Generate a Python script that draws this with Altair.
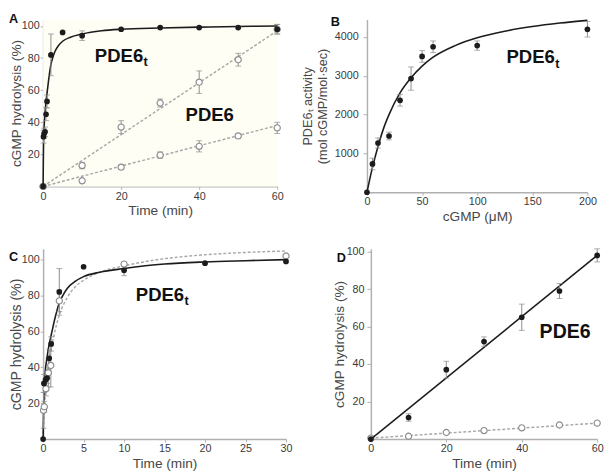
import altair as alt
import pandas as pd

FONT = "Liberation Sans"
DARK = "#1c1c1c"
GREY = "#8c8c8c"
DASH = "#a8a8a8"

# ---------------- Panel A ----------------
a_f_t = [0, 0.1, 0.25, 0.5, 0.75, 1, 2, 5, 10, 20, 30, 40, 50, 60]
a_f_y = [0, 31, 33, 34, 45, 53, 82, 96, 94, 98, 99, 99, 99, 98]
a_f_e = [0, 4, 3, 3, 4, 4, 13, 0, 3, 0.5, 0.5, 0.5, 0.5, 3]
a_o1_t = [0, 10, 20, 30, 40, 50, 60]
a_o1_y = [0, 13, 37, 52, 65, 79, 98]
a_o1_e = [0, 2, 4, 2.5, 7, 4, 3]
a_o2_t = [0, 10, 20, 30, 40, 50, 60]
a_o2_y = [0, 3.5, 12, 19.5, 25, 31.5, 36.5]
a_o2_e = [0, 0, 1.5, 2, 3.5, 1.5, 3.5]
a_fit_t = [0, 0.05, 0.1, 0.25, 0.5, 0.75, 1, 1.5, 2, 2.5, 3, 4, 5, 7, 10, 15, 20, 30, 40, 50, 60]
a_fit_y = [0, 15, 25, 37, 46, 53, 58, 68, 76, 80.5, 84, 88, 90.5, 93, 95, 97, 98, 98.8, 99.3, 99.7, 100]
a_lin1_t = [0, 60]
a_lin1_y = [0, 97]
a_lin2_t = [0, 60]
a_lin2_y = [0, 38]

# ---------------- Panel B ----------------
b_x = [0, 5, 10, 20, 30, 40, 50, 60, 100, 200]
b_y = [0, 730, 1270, 1450, 2370, 2930, 3500, 3750, 3780, 4200]
b_e = [0, 150, 130, 100, 150, 300, 150, 150, 120, 200]
b_fit_x = [0, 2.5, 5, 10, 15, 20, 30, 40, 50, 60, 80, 100, 125, 150, 175, 200]
b_fit_y = [0, 330, 640, 1180, 1640, 2000, 2560, 2950, 3250, 3480, 3780, 3980, 4150, 4270, 4360, 4430]

# ---------------- Panel C ----------------
c_f_t = [0, 0.1, 0.3, 0.5, 0.75, 1, 2, 5, 10, 20, 30]
c_f_y = [0, 31, 33, 34, 45, 53, 82, 96, 94, 98, 99]
c_f_e = [0, 5, 3, 3, 5, 4, 13, 0, 3, 0.5, 0.5]
c_o_t = [0.05, 0.15, 0.35, 0.65, 0.95, 2, 10, 30]
c_o_y = [16, 18, 28, 37, 41, 77, 97.5, 102]
c_o_e = [10, 3, 4, 8, 12, 6, 1, 0.5]
c_fit_t = [0, 0.05, 0.1, 0.25, 0.5, 0.75, 1, 1.5, 2, 2.5, 3, 4, 5, 7, 10, 15, 20, 25, 30]
c_fit_y = [0, 15, 25, 37, 46, 53, 58, 68, 76, 80.5, 84, 88, 90.5, 93, 95, 97.5, 98.7, 99.4, 100]
c_dfit_t = [0, 0.1, 0.3, 0.5, 0.75, 1, 1.5, 2, 3, 4, 5, 7, 10, 15, 20, 25, 30]
c_dfit_y = [0, 12, 27, 36, 44, 50, 61, 69, 79, 85, 88.5, 93, 96.5, 100.5, 102.7, 104, 104.8]

# ---------------- Panel D ----------------
d_t = [0, 10, 20, 30, 40, 50, 60]
d_f_y = [0, 11.5, 37, 52, 65, 79, 98]
d_f_e = [0, 2, 4.5, 2.5, 7, 4, 3.5]
d_o_y = [0.5, 1.5, 3.5, 4.5, 6, 7.5, 8.5]
d_lin1_t = [0, 60]
d_lin1_y = [0, 98]
d_lin2_t = [0, 60]
d_lin2_y = [0.5, 8.5]


def frame(x, y, e=None):
    df = pd.DataFrame({"x": x, "y": y})
    if e is not None:
        df["lo"] = [a - b for a, b in zip(y, e)]
        df["hi"] = [a + b for a, b in zip(y, e)]
    return df


def scales(xdom, ydom):
    return alt.Scale(domain=xdom, nice=False, zero=False), alt.Scale(domain=ydom, nice=False, zero=False)


def errbars(df, xs, ys):
    d = df[df["hi"] > df["lo"]]
    base = alt.Chart(d)
    rule = base.mark_rule(color=GREY, strokeWidth=1).encode(
        x=alt.X("x:Q", scale=xs), y=alt.Y("lo:Q", scale=ys), y2="hi:Q")
    t1 = base.mark_tick(color=GREY, orient="horizontal", size=6, thickness=1).encode(
        x=alt.X("x:Q", scale=xs), y=alt.Y("lo:Q", scale=ys))
    t2 = base.mark_tick(color=GREY, orient="horizontal", size=6, thickness=1).encode(
        x=alt.X("x:Q", scale=xs), y=alt.Y("hi:Q", scale=ys))
    return [rule, t1, t2]


def line(df, xs, ys, dashed=False, color=DARK, width=1.6):
    kw = dict(color=color, strokeWidth=width, interpolate="monotone")
    if dashed:
        kw["strokeDash"] = [3, 2]
    return alt.Chart(df).mark_line(**kw).encode(x=alt.X("x:Q", scale=xs), y=alt.Y("y:Q", scale=ys))


def filled(df, xs, ys):
    return alt.Chart(df).mark_circle(color=DARK, size=34, opacity=1).encode(
        x=alt.X("x:Q", scale=xs), y=alt.Y("y:Q", scale=ys))


def hollow(df, xs, ys):
    return alt.Chart(df).mark_point(shape="circle", filled=True, fill="white", stroke=GREY,
                                    strokeWidth=1.2, size=40, opacity=1).encode(
        x=alt.X("x:Q", scale=xs), y=alt.Y("y:Q", scale=ys))


def label(text, x, y, size=19, sub=None):
    df = pd.DataFrame({"t": [text]})
    out = [alt.Chart(df).mark_text(font=FONT, fontWeight="bold", fontSize=size, color="#111",
                                   align="left", baseline="middle").encode(
        text="t:N", x=alt.value(x), y=alt.value(y))]
    if sub:
        ds = pd.DataFrame({"t": [sub]})
        out.append(alt.Chart(ds).mark_text(font=FONT, fontWeight="bold", fontSize=13, color="#111",
                                           align="left", baseline="middle").encode(
            text="t:N", x=alt.value(x + size * 2.63), y=alt.value(y + 7)))
    return out


def letter(ch, x, y):
    df = pd.DataFrame({"t": [ch]})
    return alt.Chart(df).mark_text(font=FONT, fontWeight="bold", fontSize=13, color="#111",
                                   align="left", baseline="top").encode(
        text="t:N", x=alt.value(x), y=alt.value(y))


def axes(xs, ys, xvals, yvals, xtitle, ytitle, ytitle_size=14, lab_pad=1, tick=3, title_pad=-2, fmt=None):
    xa = alt.Axis(values=xvals, title=xtitle, titleFontSize=14, titlePadding=3, titleFontWeight="normal",
                  tickSize=3, labelPadding=1)
    ykw = dict(values=yvals, title=ytitle, titleFontSize=ytitle_size, titlePadding=title_pad,
               titleFontWeight="normal", labelPadding=lab_pad, tickSize=tick)
    if fmt:
        ykw["format"] = fmt
    ya = alt.Axis(**ykw)
    return alt.Chart(pd.DataFrame({"x": [xs.domain[0]], "y": [ys.domain[0]]})).mark_point(opacity=0).encode(
        x=alt.X("x:Q", scale=xs, axis=xa), y=alt.Y("y:Q", scale=ys, axis=ya))


# ---------- build A ----------
AW, AH = 240, 171
xs, ys = scales([0, 60], [0, 104])
bg = alt.Chart(pd.DataFrame({"x": [0]})).mark_rect(color="#fefef5").encode(
    x=alt.value(0), x2=alt.value(AW), y=alt.value(0), y2=alt.value(AH))
A = alt.layer(
    bg,
    axes(xs, ys, [0, 10, 20, 30, 40, 50, 60], [20, 40, 60, 80, 100], "Time (min)", "cGMP hydrolysis (%)"),
    line(frame(a_lin1_t, a_lin1_y), xs, ys, dashed=True, color=DASH, width=1.5),
    line(frame(a_lin2_t, a_lin2_y), xs, ys, dashed=True, color=DASH, width=1.5),
    *errbars(frame(a_o1_t, a_o1_y, a_o1_e), xs, ys),
    *errbars(frame(a_o2_t, a_o2_y, a_o2_e), xs, ys),
    hollow(frame(a_o1_t, a_o1_y), xs, ys),
    hollow(frame(a_o2_t, a_o2_y), xs, ys),
    line(frame(a_fit_t, a_fit_y), xs, ys),
    *errbars(frame(a_f_t, a_f_y, a_f_e), xs, ys),
    filled(frame(a_f_t, a_f_y), xs, ys),
    *label("PDE6", 53, 37, sub="t"),
    *label("PDE6", 146, 98),
    letter("A", -35, -6),
).properties(width=AW, height=AH)

# ---------- build B ----------
BW, BH = 226, 177
xs, ys = scales([0, 200], [0, 4450])
B = alt.layer(
    axes(xs, ys, [0, 50, 100, 150, 200], [1000, 2000, 3000, 4000], "cGMP (\u03bcM)",
         ["PDE6\u209c activity", "(mol cGMP/mol\u00b7sec)"], ytitle_size=13, lab_pad=5, tick=4,
         title_pad=5, fmt="d"),
    line(frame(b_fit_x, b_fit_y), xs, ys),
    *errbars(frame(b_x, b_y, b_e), xs, ys),
    filled(frame(b_x, b_y), xs, ys),
    *label("PDE6", 143, 39, sub="t"),
    letter("B", -37, -3),
).properties(width=BW, height=BH)

# ---------- build C ----------
CW, CH = 249, 195
xs, ys = scales([0, 30], [0, 106])
C = alt.layer(
    axes(xs, ys, [0, 5, 10, 15, 20, 25, 30], [20, 40, 60, 80, 100], "Time (min)", "cGMP hydrolysis (%)", 14.5),
    line(frame(c_dfit_t, c_dfit_y), xs, ys, dashed=True, color=DASH, width=1.5),
    line(frame(c_fit_t, c_fit_y), xs, ys),
    *errbars(frame(c_o_t, c_o_y, c_o_e), xs, ys),
    *errbars(frame(c_f_t, c_f_y, c_f_e), xs, ys),
    hollow(frame(c_o_t, c_o_y), xs, ys),
    filled(frame(c_f_t, c_f_y), xs, ys),
    *label("PDE6", 95, 47, sub="t"),
    letter("C", -35, 2),
).properties(width=CW, height=CH)

# ---------- build D ----------
DW, DH = 232, 195
xs, ys = scales([0, 60], [0, 101.5])
D = alt.layer(
    axes(xs, ys, [0, 10, 20, 30, 40, 50, 60], [20, 40, 60, 80, 100], "Time (min)", "cGMP hydrolysis (%)", 14,
         lab_pad=3, tick=4, title_pad=0),
    line(frame(d_lin2_t, d_lin2_y), xs, ys, dashed=True, color=DASH, width=1.5),
    hollow(frame(d_t, d_o_y), xs, ys),
    line(frame(d_lin1_t, d_lin1_y), xs, ys),
    *errbars(frame(d_t, d_f_y, d_f_e), xs, ys),
    filled(frame(d_t, d_f_y), xs, ys),
    *label("PDE6", 173, 85, size=20),
    letter("D", -35, 3),
).properties(width=DW, height=DH)

row1 = alt.hconcat(A, B, spacing=18)
row2 = alt.hconcat(C, D, spacing=40)
chart = alt.vconcat(row1, row2, spacing=22).properties(padding=0).configure(
    style={"guide-title": {"fontWeight": "normal"}}
).configure_view(
    stroke=None
).configure_axis(
    grid=False, domainColor="#b0b0b0", domainWidth=1.5, tickColor="#b0b0b0",
    labelFont=FONT, titleFont=FONT, labelFontSize=11, labelColor="#3a3a3a", titleColor="#484848",
    titleFontWeight="normal", labelFlush=False
)

chart.save("out.html", embed_options={"renderer": "svg", "actions": False})
